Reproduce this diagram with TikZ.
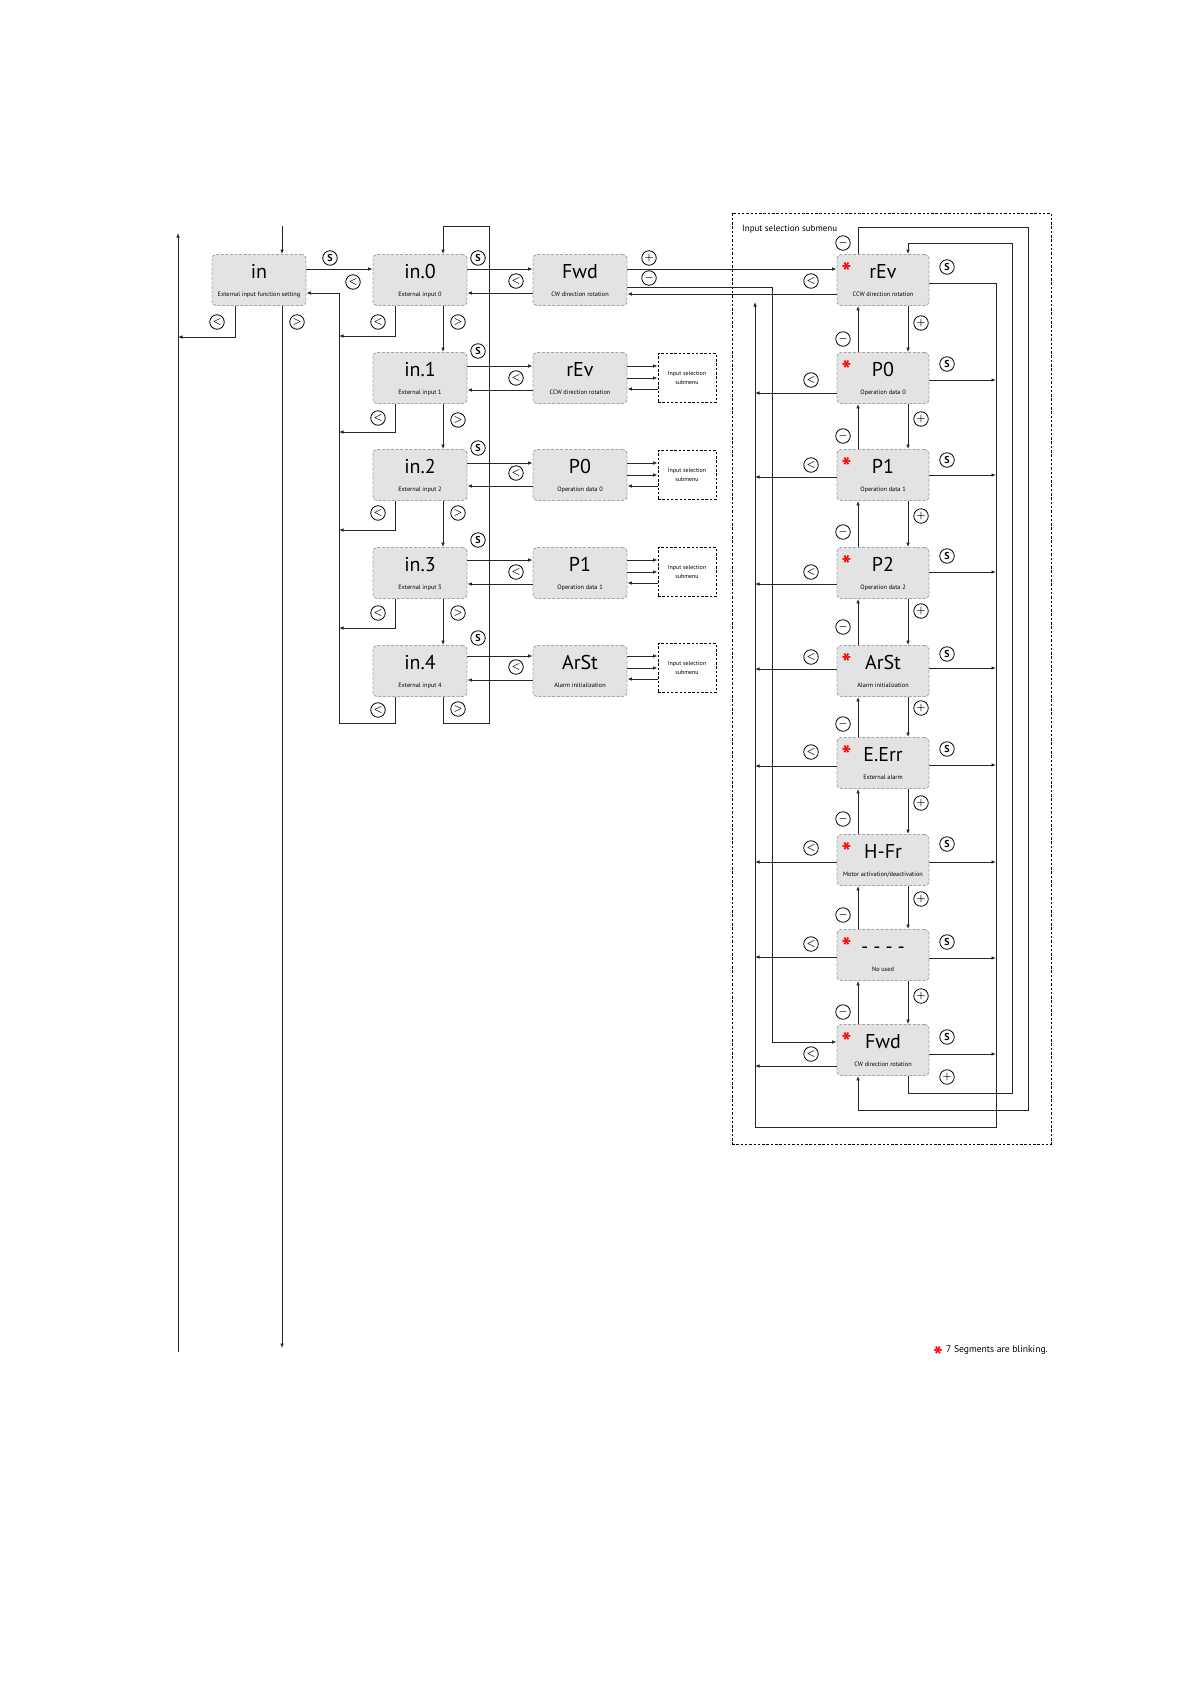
\documentclass[tikz,border=0pt]{standalone}
\usepackage{fontspec}
\setmainfont{PT Sans}
\usetikzlibrary{arrows.meta}
\tikzset{
 ln/.style={line width=0.8pt, draw=black!85},
 arr/.style={ln,-{Latex[length=4.5pt,width=3.6pt]}},
 dbox/.style={draw=gray!70, dash pattern=on 3pt off 1.6pt, line width=0.9pt, fill=gray!22, rounded corners=4pt, minimum width=94pt, minimum height=51pt, inner sep=0},
 sbox/.style={draw=black, dash pattern=on 2.5pt off 1.8pt, line width=0.9pt, minimum width=58pt, minimum height=49pt, inner sep=0, align=center, font=\fontsize{6}{8.5}\selectfont},
 circ/.style={circle, draw=black, line width=0.8pt, minimum size=14.5pt, inner sep=0, font=\fontsize{10}{10}\selectfont\bfseries\boldmath},
 dtxt/.style={font=\fontsize{20}{20}\selectfont, inner sep=0},
 stxt/.style={font=\fontsize{6.3}{7}\selectfont, inner sep=0},
 star/.style={text=red, font=\fontsize{26}{26}\selectfont\bfseries, inner sep=0},
}
\newcommand\dispbox[6][]{%
 \node[dbox,#1] (#2) at (#3,#4) {};
 \node[dtxt,anchor=base] (#2-d) at ([yshift=2pt]#2.center) {#5};
 \node[stxt,anchor=base] (#2-s) at ([yshift=-16pt]#2.center) {#6};
}
\begin{document}
\begin{tikzpicture}[x=1pt,y=-1pt]
\useasboundingbox (0,0) rectangle (1191,1684);

% ---------- boxes ----------
\dispbox{in}{259}{280}{in}{External input function setting}
\dispbox{in0}{420}{280}{in.0}{External input 0}
\dispbox{in1}{420}{378}{in.1}{External input 1}
\dispbox{in2}{420}{475}{in.2}{External input 2}
\dispbox{in3}{420}{573}{in.3}{External input 3}
\dispbox{in4}{420}{671}{in.4}{External input 4}

\dispbox{c0}{580}{280}{Fwd}{CW direction rotation}
\dispbox{c1}{580}{378}{rEv}{CCW direction rotation}
\dispbox{c2}{580}{475}{P0}{Operation data 0}
\dispbox{c3}{580}{573}{P1}{Operation data 1}
\dispbox{c4}{580}{671}{ArSt}{Alarm initialization}

\node[sbox] (m1) at (687,378) {Input selection\\submenu};
\node[sbox] (m2) at (687,475) {Input selection\\submenu};
\node[sbox] (m3) at (687,572) {Input selection\\submenu};
\node[sbox] (m4) at (687,668) {Input selection\\submenu};

\dispbox[minimum width=92pt]{s1}{883}{280}{rEv}{CCW direction rotation}
\dispbox[minimum width=92pt]{s2}{883}{378}{P0}{Operation data 0}
\dispbox[minimum width=92pt]{s3}{883}{475}{P1}{Operation data 1}
\dispbox[minimum width=92pt]{s4}{883}{573}{P2}{Operation data 2}
\dispbox[minimum width=92pt]{s5}{883}{671}{ArSt}{Alarm initialization}
\dispbox[minimum width=92pt]{s6}{883}{763}{E.Err}{External alarm}
\dispbox[minimum width=92pt]{s7}{883}{860}{H-Fr}{Motor activation/deactivation}
\dispbox[minimum width=92pt]{s8}{883}{955}{{-}\hspace{5pt}{-}\hspace{5pt}{-}\hspace{5pt}{-}}{No used}
\dispbox[minimum width=92pt]{s9}{883}{1050}{Fwd}{CW direction rotation}
\foreach \n in {s1,s2,s3,s4,s5,s6,s7,s8,s9}
  \node[star] (\n-st) at ([xshift=10pt,yshift=-18pt]\n.north west) {*};

\node[draw=black, dash pattern=on 2.5pt off 1.8pt, line width=0.9pt, minimum width=319pt, minimum height=931pt, inner sep=0] (frame) at (891.5,678.5) {};
\node[anchor=base west, font=\fontsize{9}{9}\selectfont, inner sep=0] (frlabel) at (742,231) {Input selection submenu};

% ---------- left part ----------
\coordinate (topin) at (282,226);
\coordinate (lefttop) at (178,233);
\coordinate (leftbot) at (178,1352);
\coordinate (downend) at (282,1348);
\draw[arr] (topin) -- (topin |- in.north);
\draw[arr] (leftbot) -- (lefttop);
\draw[arr] (in.south -| 235,0) -- (235,337) -- (lefttop |- 0,337);
\draw[arr] (in.south -| 282,0) -- (downend);
\draw[arr] (in.east |- 0,269) -- (in0.west |- 0,269);

% return bus to "in"
\draw[arr] (in4.south -| 395,0) -- (395,723) -- (339,723) -- (339,293) -- (in.east |- 0,293);
\foreach \n/\y in {in0/336, in1/432, in2/530, in3/628}
  \draw[arr] (\n.south -| 395,0) -- (395,\y) -- (339,\y);
% > chain
\foreach \a/\b in {in0/in1, in1/in2, in2/in3, in3/in4}
  \draw[arr] (\a.south -| 443,0) -- (\b.north -| 443,0);
\draw[arr] (in4.south -| 443,0) -- (443,723) -- (489,723) -- (489,226) -- (443,226) -- (in0.north -| 443,0);

% rows to column 2
\foreach \a/\b/\p/\q in {in0/c0/269/293, in1/c1/366/390, in2/c2/463/486, in3/c3/560/584, in4/c4/656/680}{
  \draw[arr] (\a.east |- 0,\p) -- (\b.west |- 0,\p);
  \draw[arr] (\b.west |- 0,\q) -- (\a.east |- 0,\q);
}
% column 2 to submenu boxes
\foreach \a/\b/\p in {c1/m1/366, c2/m2/463, c3/m3/560, c4/m4/656}{
  \draw[arr] (\a.east |- 0,\p) -- (\b.west |- 0,\p);
  \draw[arr] (\a.east |- 0,\p+12) -- (\b.west |- 0,\p+12);
  \draw[arr] (\b.west |- 0,\p+23) -- (\a.east |- 0,\p+23);
}

% ---------- submenu ----------
\coordinate (retup) at (755,302);
\draw[arr] (c0.east |- 0,269) -- (s1.west |- 0,269);
\draw[arr] (c0.east |- 0,287) -- (772,287) -- (772,1042) -- (s9.west |- 0,1042);
\draw[arr] (s1.west |- 0,294) -- (c0.east |- 0,294);
\foreach \n/\y in {s2/393, s3/477, s4/584, s5/669, s6/766, s7/862, s8/957, s9/1066}
  \draw[arr] (\n.west |- 0,\y) -- (755,\y);
\foreach \n/\y in {s2/380, s3/475, s4/572, s5/668, s6/765, s7/862, s8/958, s9/1054}
  \draw[arr] (\n.east |- 0,\y) -- (996,\y);
\draw[arr] (s1.east |- 0,283) -- (996,283) -- (996,1127) -- (755,1127) -- (retup);
\foreach \a/\b in {s1/s2, s2/s3, s3/s4, s4/s5, s5/s6, s6/s7, s7/s8, s8/s9}{
  \draw[arr] (\a.south -| 908,0) -- (\b.north -| 908,0);
  \draw[arr] (\b.north -| 858,0) -- (\a.south -| 858,0);
}
\draw[arr] (s9.south -| 908,0) -- (908,1093) -- (1012,1093) -- (1012,243) -- (908,243) -- (s1.north -| 908,0);
\draw[arr] (s1.north -| 858,0) -- (858,227) -- (1028,227) -- (1028,1110) -- (858,1110) -- (s9.south -| 858,0);

% ---------- circled keys ----------
\node[circ] (k1) at (330,258) {S};
\node[circ] (k2) at (353,282) {$<$};
\node[circ] (k3) at (217,322) {$<$};
\node[circ] (k4) at (297,322) {$>$};
\foreach \y [count=\i] in {258,351,448,540,638} \node[circ] (cs\i) at (478,\y) {S};
\foreach \y [count=\i] in {322,418,513,613,710} \node[circ] (cl\i) at (378,\y) {$<$};
\foreach \y [count=\i] in {322,420,513,613,709} \node[circ] (cg\i) at (458,\y) {$>$};
\foreach \y [count=\i] in {281,378,473,572,667} \node[circ] (cb\i) at (516,\y) {$<$};
\node[circ] (kp) at (649,258) {$+$};
\node[circ] (km) at (649,278) {$-$};
\foreach \y [count=\i] in {267,364,460,556,654,749,844,942,1037} \node[circ] (ss\i) at (947,\y) {S};
\foreach \y [count=\i] in {281,380,465,572,657,752,848,944,1054} \node[circ] (sl\i) at (811,\y) {$<$};
\foreach \y [count=\i] in {323,419,516,611,708,803,899,996} \node[circ] (sp\i) at (921,\y) {$+$};
\node[circ] (sp9) at (947,1077) {$+$};
\foreach \y [count=\i] in {243,339,436,532,627,724,819,915,1012} \node[circ] (sm\i) at (843,\y) {$-$};

% ---------- footnote ----------
\node[star] (fstar) at (938,1356) {*};
\node[anchor=west, font=\fontsize{9.6}{10}\selectfont, inner sep=0] (fnote) at (946,1350) {7 Segments are blinking.};
\end{tikzpicture}
\end{document}
